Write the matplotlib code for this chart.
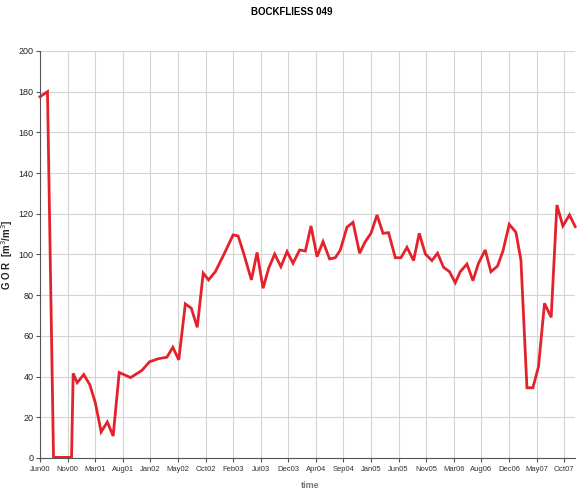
import numpy as np
import matplotlib
matplotlib.use('Agg')
import matplotlib.pyplot as plt

plt.rcParams['font.family'] = ['Liberation Sans Narrow', 'Liberation Sans', 'DejaVu Sans']

# months since Jun 2000 and gas-oil ratio readings
months = [0.0, 1.26, 2.27, 5.3, 5.57, 6.24, 7.35, 8.36, 9.3, 10.27, 11.3, 12.28, 13.3,
          15.2, 17.1, 18.4, 19.9, 21.3, 22.3, 23.3, 24.4, 25.4, 26.4, 27.4, 28.3,
          29.45, 30.84, 32.42, 33.26, 34.19, 35.49, 36.44, 37.45, 38.39, 39.4, 40.44,
          41.48, 42.48, 43.59, 44.55, 45.5, 46.51, 47.52, 48.62, 49.58, 50.42, 51.54,
          52.55, 53.66, 54.61, 55.57, 56.58, 57.58, 58.52, 59.65, 60.6, 61.61, 62.72,
          63.67, 64.7, 65.8, 66.74, 67.75, 68.76, 69.71, 70.55, 71.68, 72.68, 73.62,
          74.75, 75.7, 76.81, 77.72, 78.78, 79.9, 80.74, 81.75, 82.75, 83.69, 84.7,
          85.82, 86.78, 87.78, 88.89, 89.85]
gor = [177.5, 180, 0.3, 0.3, 41.6, 37, 41, 36, 27, 12.8, 17.7, 10.8, 42,
       39.5, 43, 47.3, 48.8, 49.5, 54.4, 48.2, 75.7, 73.6, 64.2, 90.8, 87.5,
       91.6, 99.8, 109.6, 109.1, 100.6, 87.5, 101, 83.4, 93.2, 100.2, 94,
       101.4, 95.7, 102.2, 101.7, 114, 98.9, 106.3, 97.8, 98.4, 102.2, 113.4,
       115.8, 100.6, 106.3, 110.4, 119.4, 110.4, 110.7, 98.4, 98.4, 103.5, 97,
       110.4, 100.2, 97, 100.6, 93.7, 91.5, 86.1, 91.5, 95.3, 87.1, 95.7,
       102.2, 91.5, 94.3, 101.7, 114.8, 110.9, 97.3, 34.5, 34.5, 44.9, 76,
       69.1, 124.3, 114, 119.4, 113.7]

tick_labels = ['Jun00', 'Nov00', 'Mar01', 'Aug01', 'Jan02', 'May02', 'Oct02', 'Feb03',
               'Jul03', 'Dec03', 'Apr04', 'Sep04', 'Jan05', 'Jun05', 'Nov05', 'Mar06',
               'Aug06', 'Dec06', 'May07', 'Oct07']
tick_pos = np.linspace(0, 88, len(tick_labels))

fig = plt.figure(figsize=(5.83, 4.97), dpi=100)
ax = fig.add_axes([0.0686, 0.0785, 0.918, 0.819])

ax.plot(months, gor, color='#e3222b', linewidth=2.0, solid_joinstyle='miter', clip_on=False)

ax.set_xlim(0, 89.85)
ax.set_ylim(0, 200)
ax.set_yticks(np.arange(0, 201, 20))
ax.set_xticks(tick_pos)
ax.set_xticklabels(tick_labels)

ax.grid(True, color='#d4d4d4', linewidth=0.8)
ax.set_axisbelow(True)
for side in ['top', 'right']:
    ax.spines[side].set_visible(False)
for side in ['left', 'bottom']:
    ax.spines[side].set_color('#555555')
    ax.spines[side].set_linewidth(0.8)

ax.tick_params(axis='y', labelsize=6.5, length=3, color='#555555', pad=1.5, labelcolor='#222222')
ax.tick_params(axis='x', labelsize=5.5, length=3, color='#555555', pad=3, labelcolor='#333333')

ax.set_ylabel('G O R  [m$^3$/m$^3$]', fontsize=7, fontweight='bold', color='#222222')
ax.yaxis.set_label_coords(-0.047, 0.5)
fig.text(0.532, 0.018, 'time', fontsize=6.5, fontweight='bold', color='#777777', ha='center')
fig.suptitle('BOCKFLIESS 049', x=0.5, y=0.985, fontsize=7, fontweight='bold')

fig.savefig('out.png', dpi=100)
